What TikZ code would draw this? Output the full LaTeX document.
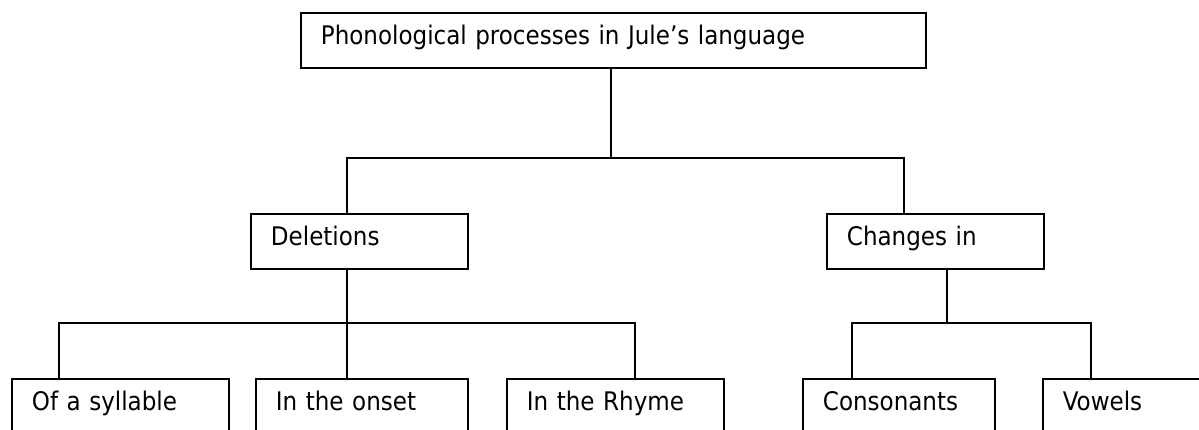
\documentclass[tikz,border=0pt]{standalone}
\usepackage{fontspec}
\setmainfont{DejaVu Sans Condensed}
\begin{document}
\begin{tikzpicture}[x=0.75pt,y=-0.75pt,line width=1.4pt,text height=1.5ex,text depth=0.25ex]
			\tikzstyle{box}=[draw,rectangle,anchor=north west,minimum height=41.25pt,inner xsep=15pt,inner ysep=0pt,align=left,font=\fontsize{19.2}{22}\selectfont]
			\useasboundingbox (0,0) rectangle (1199,429);
			
			%% Root
			\draw (300,12) node [box,text width=438.75pt] (top) {Phonological processes in Jule’s language};
			
			%% Second level
			\draw (250,213) node [box,text width=132.75pt] (del) {Deletions};
			\draw (826,213) node [box,text width=132.75pt] (chg) {Changes in};
			
			%% Third level
			\draw (11,378) node [box,text width=132.75pt] (syl) {Of a syllable};
			\draw (255,378) node [box,text width=129pt] (ons) {In the onset};
			\draw (506,378) node [box,text width=132.75pt] (rhy) {In the Rhyme};
			\draw (802,378) node [box,text width=114pt] (con) {Consonants};
			\draw (1042,378) node [box,text width=132.75pt] (vow) {Vowels};
			
			%% Joints
			\coordinate (jtop) at (611,158);
			\coordinate (jdel) at (347,158);
			\coordinate (jchg) at (904,158);
			\coordinate (kdel) at (347,323);
			\coordinate (ksyl) at (59,323);
			\coordinate (krhy) at (635,323);
			\coordinate (kchg) at (947,323);
			\coordinate (kcon) at (852,323);
			\coordinate (kvow) at (1091,323);
			
			%% Lines
			\draw (jtop |- top.south) -- (jtop);
			\draw (jdel |- del.north) -- (jdel) -- (jchg) -- (jchg |- chg.north);
			\draw (kdel |- del.south) -- (kdel |- ons.north);
			\draw (ksyl |- syl.north) -- (ksyl) -- (krhy) -- (krhy |- rhy.north);
			\draw (kchg |- chg.south) -- (kchg);
			\draw (kcon |- con.north) -- (kcon) -- (kvow) -- (kvow |- vow.north);
			
		\end{tikzpicture}
\end{document}
